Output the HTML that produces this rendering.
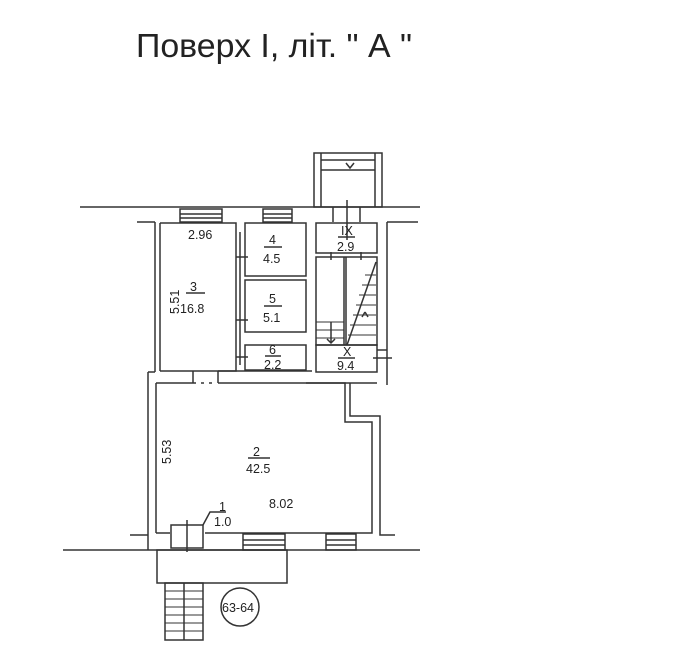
<!DOCTYPE html>
<html><head><meta charset="utf-8"><style>
html,body{margin:0;padding:0;background:#fff;}
svg{display:block;}
text{font-family:"Liberation Sans",sans-serif;fill:#222;}
</style></head><body>
<svg width="673" height="670" viewBox="0 0 673 670" xmlns="http://www.w3.org/2000/svg">
<text x="136" y="57" font-size="33" fill="#333" textLength="276" lengthAdjust="spacingAndGlyphs">Поверх I, літ. " А "</text>
<g fill="none" stroke="#333" stroke-width="1.5">
<line x1="80" y1="207" x2="420" y2="207"/>
<line x1="63" y1="550" x2="420" y2="550"/>
<rect x="314" y="153" width="68" height="54"/>
<line x1="321" y1="153" x2="321" y2="207"/><line x1="375" y1="153" x2="375" y2="207"/>
<line x1="321" y1="160" x2="375" y2="160"/><line x1="321" y1="170" x2="375" y2="170"/>
<path d="M346 163 L350 168 L354 163"/>
<line x1="333" y1="207" x2="333" y2="222"/><line x1="360" y1="207" x2="360" y2="222"/>
<line x1="347" y1="200" x2="347" y2="240"/>
<line x1="137" y1="222" x2="155" y2="222"/>
<line x1="387" y1="222" x2="418" y2="222"/>
<rect x="180" y="209" width="42" height="13"/><line x1="180" y1="214" x2="222" y2="214"/><line x1="180" y1="218" x2="222" y2="218"/>
<rect x="263" y="209" width="29" height="13"/><line x1="263" y1="214" x2="292" y2="214"/><line x1="263" y1="218" x2="292" y2="218"/>
<line x1="155" y1="222" x2="155" y2="372"/>
<line x1="160" y1="223" x2="160" y2="371"/>
<line x1="148" y1="372" x2="155" y2="372"/>
<line x1="148" y1="372" x2="148" y2="550"/>
<line x1="156" y1="383" x2="156" y2="533"/>
<path d="M160 223 L236 223 L236 371 L193 371"/>
<line x1="160" y1="371" x2="193" y2="371"/>
<path d="M193 383 L196 383 M201 383 L204 383 M209 383 L212 383"/>
<line x1="218" y1="371" x2="218" y2="383"/>
<line x1="193" y1="371" x2="193" y2="383"/>
<line x1="240" y1="232" x2="240" y2="365"/>
<rect x="245" y="223" width="61" height="53"/>
<rect x="245" y="280" width="61" height="52"/>
<rect x="245" y="345" width="61" height="25"/>
<line x1="236" y1="257" x2="248" y2="257"/><line x1="236" y1="320" x2="248" y2="320"/><line x1="236" y1="357" x2="248" y2="357"/>
<line x1="218" y1="371" x2="312" y2="371"/>
<rect x="316" y="223" width="61" height="30"/>
<rect x="316" y="257" width="61" height="88"/>
<rect x="316" y="345" width="61" height="27"/>
<line x1="331" y1="252" x2="331" y2="260"/><line x1="361" y1="252" x2="361" y2="260"/>
<line x1="344" y1="257" x2="344" y2="345"/><line x1="346" y1="257" x2="346" y2="345"/>
<line x1="347" y1="345" x2="376" y2="262"/>
<g stroke-width="1"><line x1="365" y1="275" x2="376" y2="275"/><line x1="362" y1="285" x2="376" y2="285"/><line x1="359" y1="295" x2="376" y2="295"/><line x1="356" y1="305" x2="376" y2="305"/><line x1="353" y1="315" x2="376" y2="315"/><line x1="350" y1="325" x2="376" y2="325"/><line x1="348" y1="335" x2="376" y2="335"/>
<line x1="316" y1="322" x2="344" y2="322"/><line x1="316" y1="330" x2="344" y2="330"/><line x1="316" y1="338" x2="344" y2="338"/></g>
<path d="M365 312 L362 317 M365 312 L368 317"/>
<line x1="331" y1="322" x2="331" y2="343"/><path d="M327 339 L331 343 L335 339"/>
<line x1="387" y1="222" x2="387" y2="385"/>
<line x1="377" y1="350" x2="387" y2="350"/>
<line x1="373" y1="358" x2="392" y2="358"/>
<line x1="306" y1="383" x2="377" y2="383"/>
<path d="M218 383 L345 383 L345 422 L372 422 L372 533 L205 533"/>
<path d="M156 383 L193 383"/>
<path d="M350 383 L350 416 L380 416 L380 535 L395 535"/>
<line x1="156" y1="533" x2="170" y2="533"/>
<line x1="130" y1="535" x2="148" y2="535"/>
<rect x="171" y="525" width="32" height="23"/>
<path d="M203 525 L210 512 L226 512"/>
<line x1="187" y1="520" x2="187" y2="552"/>
<rect x="243" y="534" width="42" height="16"/><line x1="243" y1="540" x2="285" y2="540"/><line x1="243" y1="545" x2="285" y2="545"/>
<rect x="326" y="534" width="30" height="16"/><line x1="326" y1="540" x2="356" y2="540"/><line x1="326" y1="545" x2="356" y2="545"/>
<rect x="157" y="550" width="130" height="33"/>
<rect x="165" y="583" width="38" height="57"/>
<line x1="184" y1="583" x2="184" y2="640"/>
<g stroke-width="1"><line x1="165" y1="591" x2="203" y2="591"/><line x1="165" y1="599" x2="203" y2="599"/><line x1="165" y1="607" x2="203" y2="607"/><line x1="165" y1="615" x2="203" y2="615"/><line x1="165" y1="623" x2="203" y2="623"/><line x1="165" y1="631" x2="203" y2="631"/></g>
<circle cx="240" cy="607" r="19"/>
<line x1="264" y1="247" x2="282" y2="247"/>
<line x1="264" y1="306" x2="282" y2="306"/>
<line x1="265" y1="356" x2="281" y2="356"/>
<line x1="338" y1="237" x2="355" y2="237"/>
<line x1="338" y1="358" x2="355" y2="358"/>
<line x1="186" y1="293" x2="205" y2="293"/>
<line x1="248" y1="458" x2="270" y2="458"/>
</g>
<g font-size="12.5">
<text x="188" y="239">2.96</text>
<text x="190" y="291">3</text><text x="180" y="313">16.8</text>
<text x="179" y="314" transform="rotate(-90 179 314)">5.51</text>
<text x="269" y="244">4</text><text x="263" y="263">4.5</text>
<text x="269" y="303">5</text><text x="263" y="322">5.1</text>
<text x="269" y="354">6</text><text x="264" y="369">2.2</text>
<text x="341" y="235">IX</text><text x="337" y="251">2.9</text>
<text x="343" y="356">X</text><text x="337" y="370">9.4</text>
<text x="253" y="456">2</text><text x="246" y="473">42.5</text>
<text x="171" y="464" transform="rotate(-90 171 464)">5.53</text>
<text x="269" y="508">8.02</text>
<text x="219" y="511">1</text><text x="214" y="526">1.0</text>
<text x="222" y="612">63-64</text>
</g>
</svg>
</body></html>
